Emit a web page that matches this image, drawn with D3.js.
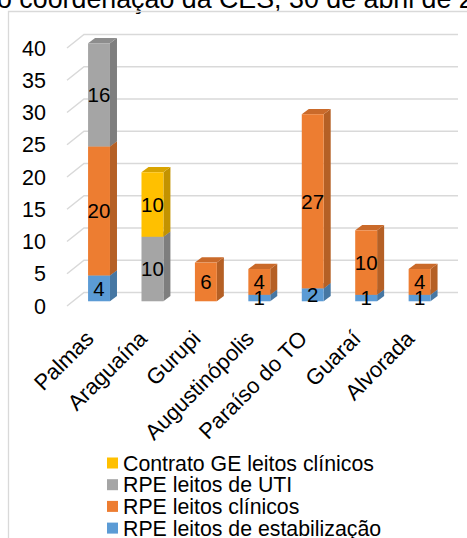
<!DOCTYPE html>
<html>
<head>
<meta charset="utf-8">
<script src="https://cdn.jsdelivr.net/npm/d3@7"></script>
<style>
  html, body { margin: 0; padding: 0; background: #fff; }
  svg { display: block; font-family: "Liberation Sans", Arial, sans-serif; }
</style>
</head>
<body>
<svg id="chart" width="467" height="538"></svg>
<script>
// Municipalities on the x axis
const categories = ["Palmas", "Araguaína", "Gurupi", "Augustinópolis", "Paraíso do TO", "Guaraí", "Alvorada"];

// Stacked series, bottom to top
const seriesNames = ["RPE leitos de estabilização", "RPE leitos clínicos", "RPE leitos de UTI", "Contrato GE leitos clínicos"];
const estabilizacao = [4, 0, 0, 1, 2, 1, 1];
const clinicos      = [20, 0, 6, 4, 27, 10, 4];
const uti           = [16, 10, 0, 0, 0, 0, 0];
const contratoGE    = [0, 10, 0, 0, 0, 0, 0];

const yTicks = [0, 5, 10, 15, 20, 25, 30, 35, 40];
const titleText = "o coordenação da CES, 30 de abril de 2020";

const seriesValues = [estabilizacao, clinicos, uti, contratoGE];
const colors = ["#5B9BD5", "#ED7D31", "#A5A5A5", "#FFC000"];

const svg = d3.select("#chart");

// Outer frame and title
svg.append("text")
  .attr("x", -3).attr("y", 8)
  .attr("font-size", 26.8).attr("fill", "#000")
  .text(titleText);
svg.append("path")
  .attr("d", "M8.5,560 V11.5 H480")
  .attr("fill", "none").attr("stroke", "#d9d9d9").attr("stroke-width", 1.3);

// Front-plane scales; the back wall is offset by the depth vector
const depth = { dx: 18, dy: -13.5 };
const x = d3.scaleBand().domain(categories).range([66, 440]);
const y = d3.scaleLinear().domain([0, 40]).range([306, 48]);

// Gridlines on floor edge + back wall
const grid = svg.append("g");
yTicks.forEach(v => {
  const y0 = y(v);
  grid.append("path")
    .attr("d", `M67,${y0} L${66 + depth.dx},${y0 + depth.dy} H458`)
    .attr("fill", "none").attr("stroke", "#d9d9d9").attr("stroke-width", 1.5);
});

// Tick labels
svg.append("g").selectAll("text").data(yTicks).join("text")
  .attr("x", 46).attr("y", d => y(d))
  .attr("dy", "0.36em")
  .attr("text-anchor", "end")
  .attr("font-size", 21.5).attr("fill", "#000")
  .text(d => d);

// Bars: boxes placed partway into the depth
const dFront = 0.35, dBack = 0.74;
const barW = x.bandwidth() * 0.41;
const fx = depth.dx * dFront, fy = depth.dy * dFront;
const sx = depth.dx * (dBack - dFront), sy = depth.dy * (dBack - dFront);

const stackData = categories.map((c, i) => {
  let base = 0;
  return seriesValues.map((vals, s) => {
    const seg = { cat: c, s, v: vals[i], y0: base, y1: base + vals[i] };
    base += vals[i];
    return seg;
  }).filter(d => d.v > 0);
});

const bars = svg.append("g");
stackData.forEach(segs => {
  segs.forEach(d => {
    const cx = x(d.cat) + x.bandwidth() / 2 + fx;
    const x0 = cx - barW / 2, x1 = cx + barW / 2;
    const yb = y(d.y0) + fy, yt = y(d.y1) + fy;
    const base = d3.color(colors[d.s]);
    bars.append("path")
      .attr("d", `M${x1},${yb} L${x1 + sx},${yb + sy} L${x1 + sx},${yt + sy} L${x1},${yt} Z`)
      .attr("fill", base.darker(0.75));
    bars.append("path")
      .attr("d", `M${x0},${yt} L${x1},${yt} L${x1 + sx},${yt + sy} L${x0 + sx},${yt + sy} Z`)
      .attr("fill", base.darker(0.45));
    bars.append("rect")
      .attr("x", x0).attr("y", yt)
      .attr("width", barW).attr("height", yb - yt)
      .attr("fill", base);
  });
});

// Value labels centred on each segment's front face
const labels = svg.append("g");
stackData.forEach(segs => {
  segs.forEach(d => {
    const cx = x(d.cat) + x.bandwidth() / 2 + fx;
    labels.append("text")
      .attr("x", cx)
      .attr("y", (y(d.y0) + y(d.y1)) / 2 + fy)
      .attr("dy", "0.36em")
      .attr("text-anchor", "middle")
      .attr("font-size", 20.5).attr("fill", "#000")
      .text(d.v);
  });
});

// Category labels, rotated
svg.append("g").selectAll("text").data(categories).join("text")
  .attr("transform", d => `translate(${x(d) + x.bandwidth() / 2 + fx - 4},340) rotate(-45)`)
  .attr("text-anchor", "end")
  .attr("font-size", 22).attr("fill", "#000")
  .text(d => d);

// Legend, listed top series first
const legendOrder = [3, 2, 1, 0];
const legend = svg.append("g");
legendOrder.forEach((s, i) => {
  const cy = 463 + i * 21.7;
  legend.append("rect")
    .attr("x", 107).attr("y", cy - 5.5)
    .attr("width", 11).attr("height", 11)
    .attr("fill", colors[s]);
  legend.append("text")
    .attr("x", 123).attr("y", cy)
    .attr("dy", "0.36em")
    .attr("font-size", 21.3).attr("fill", "#000")
    .text(seriesNames[s]);
});
</script>
</body>
</html>
